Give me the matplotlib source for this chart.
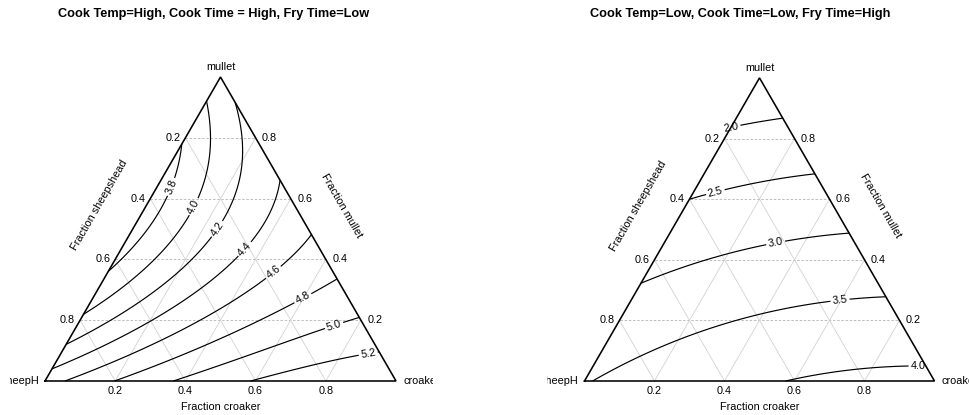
import numpy as np
import matplotlib
matplotlib.use("Agg")
import matplotlib.pyplot as plt
import matplotlib.tri as mtri

plt.rcParams['font.family'] = ['Liberation Sans', 'DejaVu Sans']

W, H, DPI = 969, 415, 100
SQ3 = np.sqrt(3.0)

# ---- data -------------------------------------------------------------
vertex_names = ["sheepH", "croaker", "mullet"]
axis_titles = ["Fraction sheepshead", "Fraction croaker", "Fraction mullet"]
tick_values = [0.2, 0.4, 0.6, 0.8]

titles = ["Cook Temp=High, Cook Time = High, Fry Time=Low",
          "Cook Temp=Low, Cook Time=Low, Fry Time=High"]

# Scheffe special-cubic mixture model coefficients
# linear terms: sheepshead, croaker, mullet
# binary terms: sheep*croaker, sheep*mullet, croaker*mullet
linear_high = [4.511, 5.385, 4.157]
binary_high = [0.73, -2.53, -0.775]
ternary_high = 1.0
levels_high = [3.8, 4.0, 4.2, 4.4, 4.6, 4.8, 5.0, 5.2]

linear_low = [3.47, 4.103, 1.62]
binary_low = [0.68, 0.58, 0.434]
ternary_low = 0.0
levels_low = [2.0, 2.5, 3.0, 3.5, 4.0]

# ---- layout -----------------------------------------------------------
# pixel geometry of each triangle: base-left corner, side length, clip region
panels = [
    dict(origin=(45.0, 381.0), side=351.0, clip=(10.0, 433.0), title_x=214.0),
    dict(origin=(584.5, 381.0), side=350.0, clip=(547.0, 975.0), title_x=740.0),
]
label_spots = [
    [(0.357, 0.554), (0.423, 0.497), (0.494, 0.431), (0.577, 0.369),
     (0.651, 0.309), (0.734, 0.237), (0.823, 0.160), (0.920, 0.083)],
    [(0.417, 0.734), (0.371, 0.551), (0.543, 0.411), (0.729, 0.240),
     (0.953, 0.051)],
]

FS = 7.8


def to_xy(s, c, m):
    s, c, m = np.asarray(s), np.asarray(c), np.asarray(m)
    return c + 0.5 * m, m * SQ3 / 2.0


def model(s, c, m, lin, bin_, ter):
    return (lin[0] * s + lin[1] * c + lin[2] * m
            + bin_[0] * s * c + bin_[1] * s * m + bin_[2] * c * m
            + ter * s * c * m)


# simplex lattice for contouring
n = 150
pts = [(i / n, j / n, 1 - (i + j) / n) for i in range(n + 1) for j in range(n + 1 - i)]
pts = np.array(pts)
pts[:, 2] = np.clip(pts[:, 2], 0, 1)
gx, gy = to_xy(pts[:, 0], pts[:, 1], pts[:, 2])
tri = mtri.Triangulation(gx, gy)

fig = plt.figure(figsize=(W / DPI, H / DPI), dpi=DPI)

fits = [(linear_high, binary_high, ternary_high, levels_high),
        (linear_low, binary_low, ternary_low, levels_low)]

for k, (pan, fit) in enumerate(zip(panels, fits)):
    ox, oy = pan["origin"]
    S = pan["side"]
    xl, xr = pan["clip"]
    ax = fig.add_axes([xl / W, 0, (xr - xl) / W, 1])
    ax.set_xlim((xl - ox) / S, (xr - ox) / S)
    ax.set_ylim((oy - H) / S, oy / S)
    ax.axis('off')
    px = 1.0 / S  # one pixel in data units

    # grid lines
    for v in tick_values:
        x, y = to_xy([1 - v, 0], [0, 1 - v], [v, v])
        ax.plot(x, y, color='#b4b4b4', lw=0.6, ls=(0, (3, 2)), zorder=1)
        x, y = to_xy([1 - v, 0], [v, v], [0, 1 - v])
        ax.plot(x, y, color='#d2d2d2', lw=0.6, zorder=1)
        x, y = to_xy([v, v], [1 - v, 0], [0, 1 - v])
        ax.plot(x, y, color='#d2d2d2', lw=0.6, zorder=1)

    # contours of fitted surface
    lin, bin_, ter, levels = fit
    z = model(pts[:, 0], pts[:, 1], pts[:, 2], lin, bin_, ter)
    cs = ax.tricontour(tri, z, levels=levels, colors='k', linewidths=0.85, zorder=2)
    ax.clabel(cs, levels, inline=True, fmt='%.1f', fontsize=FS,
              manual=label_spots[k], inline_spacing=2)

    # triangle outline
    x, y = to_xy([1, 0, 0, 1], [0, 1, 0, 0], [0, 0, 1, 0])
    ax.plot(x, y, color='k', lw=1.15, zorder=3, solid_joinstyle='miter')

    # vertex labels
    ax.text(-6 * px, 0, vertex_names[0], ha='right', va='center',
            fontsize=FS, clip_on=True)
    ax.text(1 + 7 * px, 0, vertex_names[1], ha='left', va='center',
            fontsize=FS, clip_on=True)
    ax.text(0.5, SQ3 / 2 + 10 * px, vertex_names[2], ha='center', va='center',
            fontsize=FS)

    # tick labels
    for v in tick_values:
        # bottom: croaker fraction
        ax.text(v, -5 * px, f"{v:.1f}", ha='center', va='top', fontsize=FS)
        # left edge: sheepshead fraction
        lx, ly = to_xy(v, 0, 1 - v)
        ax.text(lx - 5 * px, ly, f"{v:.1f}", ha='right', va='center', fontsize=FS)
        # right edge: mullet fraction
        rx, ry = to_xy(0, 1 - v, v)
        ax.text(rx + 6.5 * px, ry, f"{v:.1f}", ha='left', va='center', fontsize=FS)

    # axis titles
    ax.text(0.5, -26 * px, axis_titles[1], ha='center', va='center', fontsize=FS)
    mid = np.array([0.25, SQ3 / 4])
    nrm = np.array([-SQ3 / 2, 0.5])
    along = np.array([0.5, SQ3 / 2])
    p = mid + nrm * 41 * px + along * 3.5 * px
    ax.text(p[0], p[1], axis_titles[0], ha='center', va='center',
            rotation=60, rotation_mode='anchor', fontsize=FS)
    mid = np.array([0.75, SQ3 / 4])
    nrm = np.array([SQ3 / 2, 0.5])
    along = np.array([-0.5, SQ3 / 2])
    p = mid + nrm * 41 * px + along * 3.5 * px
    ax.text(p[0], p[1], axis_titles[2], ha='center', va='center',
            rotation=-60, rotation_mode='anchor', fontsize=FS)

    fig.text(pan["title_x"] / W, 1 - 13.5 / H, titles[k], ha='center', va='center',
             fontsize=9.2, fontweight='bold')

fig.savefig("out.png", dpi=DPI)
